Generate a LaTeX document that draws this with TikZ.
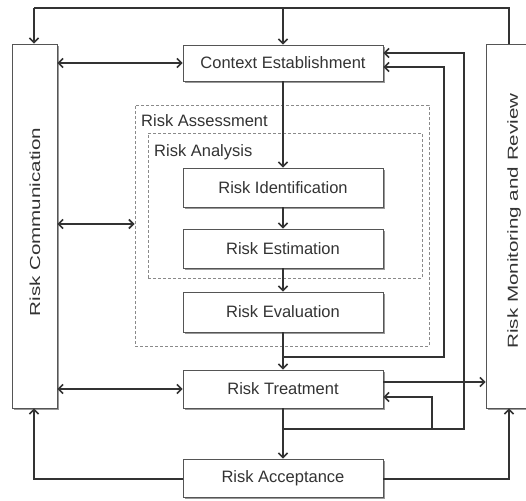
\documentclass[tikz,border=0pt]{standalone}
\usepackage{fontspec}
\setmainfont{Liberation Sans}
\usetikzlibrary{arrows.meta,shadows}
\definecolor{ink}{HTML}{333333}
\definecolor{boxline}{HTML}{555555}
\definecolor{dashc}{HTML}{8A8A8A}
\begin{document}
\begin{tikzpicture}[x=1pt,y=-1pt,
  conn/.style={draw=ink,line width=1.6pt},
  tip/.style={-{Straight Barb[length=4.5pt,width=9pt]}},
  both/.style={{Straight Barb[length=4.5pt,width=9pt]}-{Straight Barb[length=4.5pt,width=9pt]}},
  shade/.style={drop shadow={shadow xshift=1.6pt,shadow yshift=-1.6pt,fill=black!40,opacity=1}},
  stepbox/.style={draw=boxline,line width=0.9pt,fill=white,minimum width=200pt,inner sep=0pt,
    font=\fontsize{16.5}{18}\selectfont,text=ink,shade},
  sidebox/.style={draw=boxline,line width=0.9pt,fill=white,inner sep=0pt,shade},
  sidetext/.style={rotate=90,inner sep=0pt,text=ink,font=\fontsize{14.5}{16}\selectfont},
  zone/.style={draw=dashc,line width=1pt,dash pattern=on 3pt off 2pt,inner sep=0pt},
  zonelabel/.style={anchor=base west,inner sep=0pt,text=ink,font=\fontsize{16.5}{18}\selectfont}
]
\useasboundingbox[fill=white] (0,0) rectangle (526,500);

% side boxes
\node[sidebox,minimum width=45pt,minimum height=364pt] (comm) at (34.5,226) {};
\node[sidetext] (commtxt) at (35,222) {\scalebox{1.42}[1]{Risk Communication}};
\node[sidebox,minimum width=54pt,minimum height=364pt] (mon) at (513,226) {};
\node[sidetext] (montxt) at (514,221) {\scalebox{1.42}[1]{Risk Monitoring and Review}};

% dashed zones
\node[zone,minimum width=294pt,minimum height=241pt] (assess) at (282,225.5) {};
\node[zonelabel] (assesslbl) at (141,126) {Risk Assessment};
\node[zone,minimum width=274pt,minimum height=145pt] (analysis) at (285,205.5) {};
\node[zonelabel] (analysislbl) at (154,156) {Risk Analysis};

% main boxes
\node[stepbox,minimum height=36pt] (ctx) at (283,63) {Context Establishment};
\node[stepbox,minimum height=39pt] (ident) at (283,187.5) {Risk Identification};
\node[stepbox,minimum height=39pt] (est) at (283,248.5) {Risk Estimation};
\node[stepbox,minimum height=40pt] (eval) at (283,312) {Risk Evaluation};
\node[stepbox,minimum height=38pt] (treat) at (283,389) {Risk Treatment};
\node[stepbox,minimum height=38pt] (accept) at (283,478) {Risk Acceptance};

% top loop
\coordinate (tl) at (34,8);
\coordinate (tc) at (283,8);
\coordinate (tr) at (509,8);
\draw[conn] (tr |- mon.north) -- (tr) -- (tl);
\draw[conn,tip] (tl) -- (tl |- comm.north);
\draw[conn,tip] (tc) -- (ctx.north);

% communication links
\coordinate (ma) at (100,224);
\draw[conn,both] (comm.east |- ctx.west) -- (ctx.west);
\draw[conn,both] (comm.east |- ma) -- (assess.west |- ma);
\draw[conn,both] (comm.east |- treat.west) -- (treat.west);

% main chain
\draw[conn,tip] (ctx.south) -- (ident.north);
\draw[conn,tip] (ident.south) -- (est.north);
\draw[conn,tip] (est.south) -- (eval.north);
\draw[conn,tip] (eval.south) -- (treat.north);
\draw[conn,tip] (treat.south) -- (accept.north);

% feedback loops
\coordinate (j1) at (283,357);
\coordinate (r1) at (444,67);
\draw[conn,tip] (j1) -| (r1) -- (r1 -| ctx.east);
\coordinate (j2) at (283,429);
\coordinate (r2) at (464,53);
\coordinate (r3) at (432,397);
\draw[conn,tip] (j2) -| (r2) -- (r2 -| ctx.east);
\draw[conn,tip] (r3 |- j2) -- (r3) -- (r3 -| treat.east);
\coordinate (o1) at (430,382);
\draw[conn,tip] (treat.east |- o1) -- (mon.west |- o1);

% acceptance links
\coordinate (bl) at (34,479);
\coordinate (br) at (509,479);
\draw[conn,tip] (accept.west |- bl) -- (bl) -- (bl |- comm.south);
\draw[conn,tip] (accept.east |- br) -- (br) -- (br |- mon.south);
\end{tikzpicture}
\end{document}
